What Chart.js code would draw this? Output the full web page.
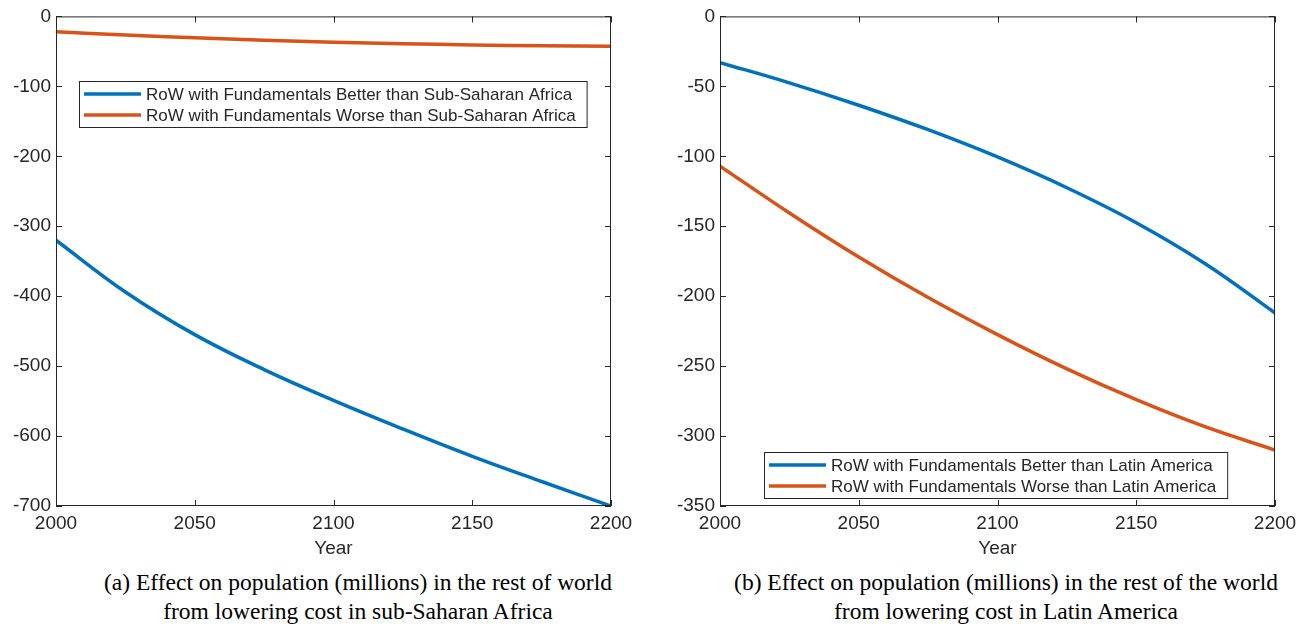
<!DOCTYPE html>
<html><head><meta charset="utf-8">
<script src="https://cdn.jsdelivr.net/npm/chart.js@4"></script>
<style>
html,body{margin:0;padding:0;background:#fff;width:1310px;height:629px;overflow:hidden;}
.wrap{position:absolute;top:0;}
.cap{position:absolute;font-family:"Liberation Serif","DejaVu Serif",serif;font-size:23.5px;color:#000;text-align:center;line-height:29px;white-space:nowrap;}
</style></head><body>
<div class="wrap" style="left:0;width:655px;height:560px;"><canvas id="c1"></canvas></div>
<div class="wrap" style="left:664px;width:646px;height:560px;"><canvas id="c2"></canvas></div>
<div class="cap" style="left:0;width:716px;top:568px;">(a) Effect on population (millions) in the rest of world<br>from lowering cost in sub-Saharan Africa</div>
<div class="cap" style="left:655px;width:702px;top:568px;">(b) Effect on population (millions) in the rest of the world<br>from lowering cost in Latin America</div>
<script>
const years = [2000, 2025, 2050, 2075, 2100, 2125, 2150, 2175, 2200];
const xTicks = [2000, 2050, 2100, 2150, 2200];
// Panel (a): sub-Saharan Africa
const ssaBetter = [-320, -394, -455, -505, -549, -590, -629, -665, -700];
const ssaWorse  = [-22, -26.5, -30.5, -34, -36.8, -39, -40.8, -42, -42.7];
const ssaTicks  = [0, -100, -200, -300, -400, -500, -600, -700];
// Panel (b): Latin America
const laBetter = [-33, -47.5, -63.5, -81, -100.5, -122.5, -147.5, -177, -212];
const laWorse  = [-107, -140.5, -172, -201, -227.5, -252, -274, -293.5, -310];
const laTicks  = [0, -50, -100, -150, -200, -250, -300, -350];

const labelsA = ['RoW with Fundamentals Better than Sub-Saharan Africa','RoW with Fundamentals Worse than Sub-Saharan Africa'];
const labelsB = ['RoW with Fundamentals Better than Latin America','RoW with Fundamentals Worse than Latin America'];

const BLUE = '#0072BD', ORANGE = '#D95319', AX = '#262626';
const TICKFONT = {family:'"Liberation Sans", Arial, sans-serif', size:19};

function pts(v){ return years.map((y,i)=>({x:y,y:v[i]})); }

const boxPlugin = {
  id:'box',
  afterDatasetsDraw(chart, args, opts){
    const {ctx, chartArea:a, scales:{x,y}} = chart;
    ctx.save();
    ctx.strokeStyle = AX; ctx.lineWidth = 1;
    ctx.strokeRect(a.left+0.5, a.top+0.5, a.right-a.left-1, a.bottom-a.top-1);
    const L = 6;
    ctx.beginPath();
    xTicks.forEach(t=>{ const px = Math.round(x.getPixelForValue(t))+0.5;
      ctx.moveTo(px,a.bottom); ctx.lineTo(px,a.bottom-L);
      ctx.moveTo(px,a.top); ctx.lineTo(px,a.top+L); });
    opts.yt.forEach(t=>{ const py = Math.round(y.getPixelForValue(t))+0.5;
      ctx.moveTo(a.left,py); ctx.lineTo(a.left+L,py);
      ctx.moveTo(a.right,py); ctx.lineTo(a.right-L,py); });
    ctx.stroke();
    // legend
    const lg = opts.legend;
    const ds = chart.data.datasets;
    ctx.font = '17px "Liberation Sans", Arial, sans-serif';
    let tw = 0; ds.forEach(d=>{ tw = Math.max(tw, ctx.measureText(d.label).width); });
    const bx = lg.left, by = lg.top, bw = 67 + tw + 11, bh = 46;
    ctx.fillStyle = '#fff'; ctx.fillRect(bx,by,bw,bh);
    ctx.strokeStyle = '#262626'; ctx.lineWidth = 1; ctx.strokeRect(bx+0.5,by+0.5,bw,bh);
    ds.forEach((d,i)=>{
      const cy = by + 13 + i*21;
      ctx.strokeStyle = d.borderColor; ctx.lineWidth = 3.5;
      ctx.beginPath(); ctx.moveTo(bx+5,cy); ctx.lineTo(bx+62,cy); ctx.stroke();
      ctx.fillStyle = AX; ctx.textBaseline = 'middle'; ctx.textAlign='left';
      ctx.fillText(d.label, bx+67, cy+1);
    });
    ctx.restore();
  }
};

function make(id, better, worse, labels, yt, ymin, legend, padRight, yWidth){
  new Chart(document.getElementById(id), {
    type:'line',
    data:{datasets:[
      {label:labels[0], data:pts(better), borderColor:BLUE, borderWidth:3.5, pointRadius:0, tension:0.4, fill:false},
      {label:labels[1], data:pts(worse), borderColor:ORANGE, borderWidth:3.5, pointRadius:0, tension:0.4, fill:false}
    ]},
    options:{
      responsive:true, maintainAspectRatio:false, animation:false,
      layout:{padding:{top:12, right:padRight, left:0, bottom:0}},
      plugins:{legend:{display:false}, tooltip:{enabled:false}, box:{yt:yt, legend:legend}},
      scales:{
        x:{type:'linear', min:2000, max:2200,
           afterBuildTicks(s){ s.ticks = xTicks.map(v=>({value:v})); },
           afterFit(s){ s.height = 54; },
           grid:{display:false, drawTicks:false}, border:{display:false},
           ticks:{color:AX, font:TICKFONT, padding:6, maxRotation:0, callback:v=>String(v)},
           title:{display:true, text:'Year', color:AX, font:{family:'"Liberation Sans", Arial, sans-serif', size:19}, padding:{top:0,bottom:0}}},
        y:{type:'linear', min:ymin, max:0,
           afterBuildTicks(s){ s.ticks = yt.map(v=>({value:v})); },
           afterFit(s){ s.width = yWidth; },
           grid:{display:false, drawTicks:false}, border:{display:false},
           ticks:{color:AX, font:TICKFONT, padding:5, callback:v=>String(v)}}
      }
    },
    plugins:[boxPlugin]
  });
}
make('c1', ssaBetter, ssaWorse, labelsA, ssaTicks, -700, {left:79, top:81}, 44, 56);
make('c2', laBetter, laWorse, labelsB, laTicks, -350, {left:764-664, top:452}, 35, 56);
</script>
</body></html>
